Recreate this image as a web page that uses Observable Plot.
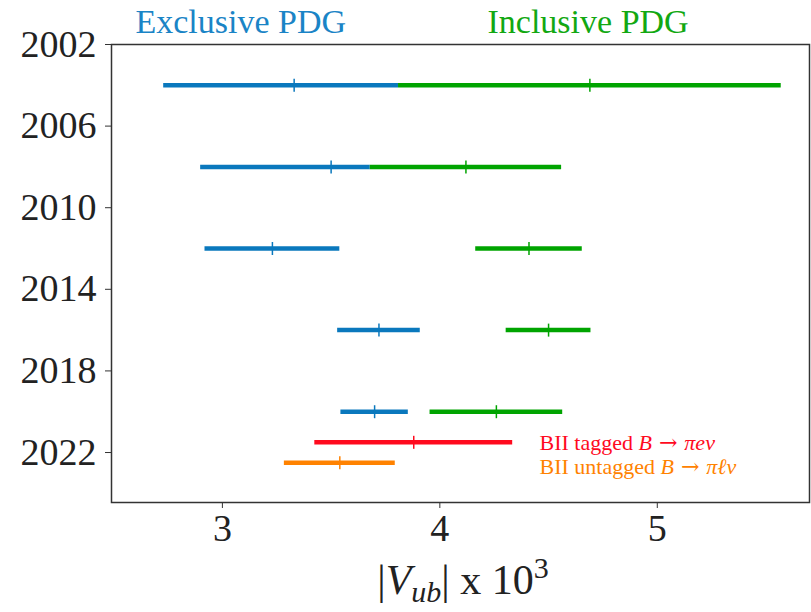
<!DOCTYPE html>
<html>
<head>
<meta charset="utf-8">
<script src="https://cdn.jsdelivr.net/npm/d3@7"></script>
<script src="https://cdn.jsdelivr.net/npm/@observablehq/plot@0.6"></script>
<style>
  html, body { margin: 0; padding: 0; background: #fff; }
  #chart svg { display: block; }
</style>
</head>
<body>
<div id="chart"></div>
<script>
// ---- data ----
const years            = [2004, 2008, 2012, 2016, 2020];
const exclusiveCenter  = [3.33, 3.50, 3.23, 3.72, 3.70];
const exclusiveError   = [0.60, 0.60, 0.31, 0.19, 0.155];
const inclusiveCenter  = [4.69, 4.12, 4.41, 4.50, 4.26];
const inclusiveError   = [0.88, 0.44, 0.245, 0.195, 0.305];

const belleYears  = [2021.5, 2022.5];
const belleCenter = [3.88, 3.54];
const belleError  = [0.455, 0.255];
const belleNames  = ["BII tagged", "BII untagged"];
const belleDecay  = ["πeν", "πℓν"];

const seriesTitles = ["Exclusive PDG", "Inclusive PDG"];
const yTicks = [2002, 2006, 2010, 2014, 2018, 2022];
const xTicks = [3, 4, 5];

// ---- colours ----
const BLUE = "#0a78bd", GREEN = "#00a400", RED = "#ff0a1e", ORANGE = "#ff8200";

const rows = (ys, cs, es, color) => ys.map((y, i) => ({
  year: y, c: cs[i], lo: cs[i] - es[i], hi: cs[i] + es[i], color
}));
const incl = rows(years, inclusiveCenter, inclusiveError, GREEN);
// the inclusive bar is drawn over the exclusive one where they overlap
const excl = rows(years, exclusiveCenter, exclusiveError, BLUE)
  .map((d, i) => ({...d, hiVisible: Math.min(d.hi, incl[i].lo)}));
const belle = rows(belleYears, belleCenter, belleError, null)
  .map((d, i) => ({...d, color: i === 0 ? RED : ORANGE, name: belleNames[i], decay: belleDecay[i]}));
const allRows = [...excl, ...incl, ...belle];

const vbar = { draw(ctx) { ctx.moveTo(0, -6.5); ctx.lineTo(0, 6.5); } };
const FONT = "'Liberation Serif', 'Times New Roman', serif";

const plot = Plot.plot({
  width: 811,
  height: 612,
  marginLeft: 111,
  marginRight: 2,
  marginTop: 44,
  marginBottom: 110,
  style: { fontSize: "38px", color: "#222", background: "#fff", overflow: "visible" },
  x: { domain: [2.49, 5.70] },
  y: { domain: [2002, 2024.45], reverse: true },
  marks: [
    Plot.ruleY(excl, { y: "year", x1: "lo", x2: "hiVisible", stroke: "color", strokeWidth: 4.5 }),
    Plot.ruleY(incl, { y: "year", x1: "lo", x2: "hi", stroke: "color", strokeWidth: 4.5 }),
    Plot.ruleY(belle, { y: "year", x1: "lo", x2: "hi", stroke: "color", strokeWidth: 4.5 }),
    Plot.dot(allRows, { x: "c", y: "year", symbol: vbar, stroke: "color", fill: "none", strokeWidth: 1.5 }),
    Plot.text([belle[0]], { y: "year", frameAnchor: "left", dx: 428, dy: 1, textAnchor: "start",
      text: d => d.name + " B → " + d.decay, fill: "color", fontSize: 22, fontFamily: FONT }),
    Plot.text([belle[1]], { y: "year", frameAnchor: "left", dx: 428, dy: 4, textAnchor: "start",
      text: d => d.name + " B → " + d.decay, fill: "color", fontSize: 22, fontFamily: FONT }),
    Plot.text([seriesTitles[0]], { frameAnchor: "top-left", dx: 24, dy: -12, text: d => d,
      textAnchor: "start", lineAnchor: "bottom", fill: "#1a84c6", fontSize: 34, fontFamily: FONT }),
    Plot.text([seriesTitles[1]], { frameAnchor: "top-left", dx: 376, dy: -12, text: d => d,
      textAnchor: "start", lineAnchor: "bottom", fill: "#12a812", fontSize: 34, fontFamily: FONT }),
    Plot.frame({ stroke: "#333", strokeWidth: 1.5 }),
    Plot.axisY({ ticks: yTicks, tickFormat: d => String(d), tickSize: 6, tickPadding: 9,
      label: null, fontSize: 38, fontFamily: FONT, stroke: "#333" }),
    Plot.axisX({ ticks: xTicks, tickFormat: d => String(d), tickSize: 6, tickPadding: 6,
      label: null, fontSize: 38, fontFamily: FONT, stroke: "#333" })
  ]
});

document.getElementById("chart").appendChild(plot);

const svg = d3.select(plot);

// make sure every text uses the serif family
svg.attr("font-family", FONT).style("font-family", FONT);
svg.selectAll("text").attr("font-family", FONT).style("font-family", FONT);

// rich text for the Belle II labels (italic math parts)
svg.selectAll("text").filter(function () { return this.textContent.startsWith("BII"); })
  .each(function () {
    const t = d3.select(this);
    const full = this.textContent;
    const d = belle.find(b => full.startsWith(b.name + " "));
    t.text(null);
    t.append("tspan").text(d.name + " ");
    t.append("tspan").style("font-style", "italic").text("B");
    t.append("tspan").style("font-family", "'DejaVu Serif'").text(" → ");
    t.append("tspan").style("font-style", "italic").text(d.decay);
  });

// x-axis label |V_ub| x 10^3
const label = svg.append("text")
  .attr("x", 463).attr("y", 594)
  .attr("text-anchor", "middle")
  .attr("font-size", 42)
  .style("font-family", FONT)
  .attr("fill", "#222");
label.append("tspan").text("|");
label.append("tspan").style("font-style", "italic").text("V");
label.append("tspan").style("font-style", "italic").attr("font-size", 30).attr("dy", 8).text("ub");
label.append("tspan").attr("dy", -8).text("| x 10");
label.append("tspan").attr("font-size", 30).attr("dy", -16).text("3");
</script>
</body>
</html>
